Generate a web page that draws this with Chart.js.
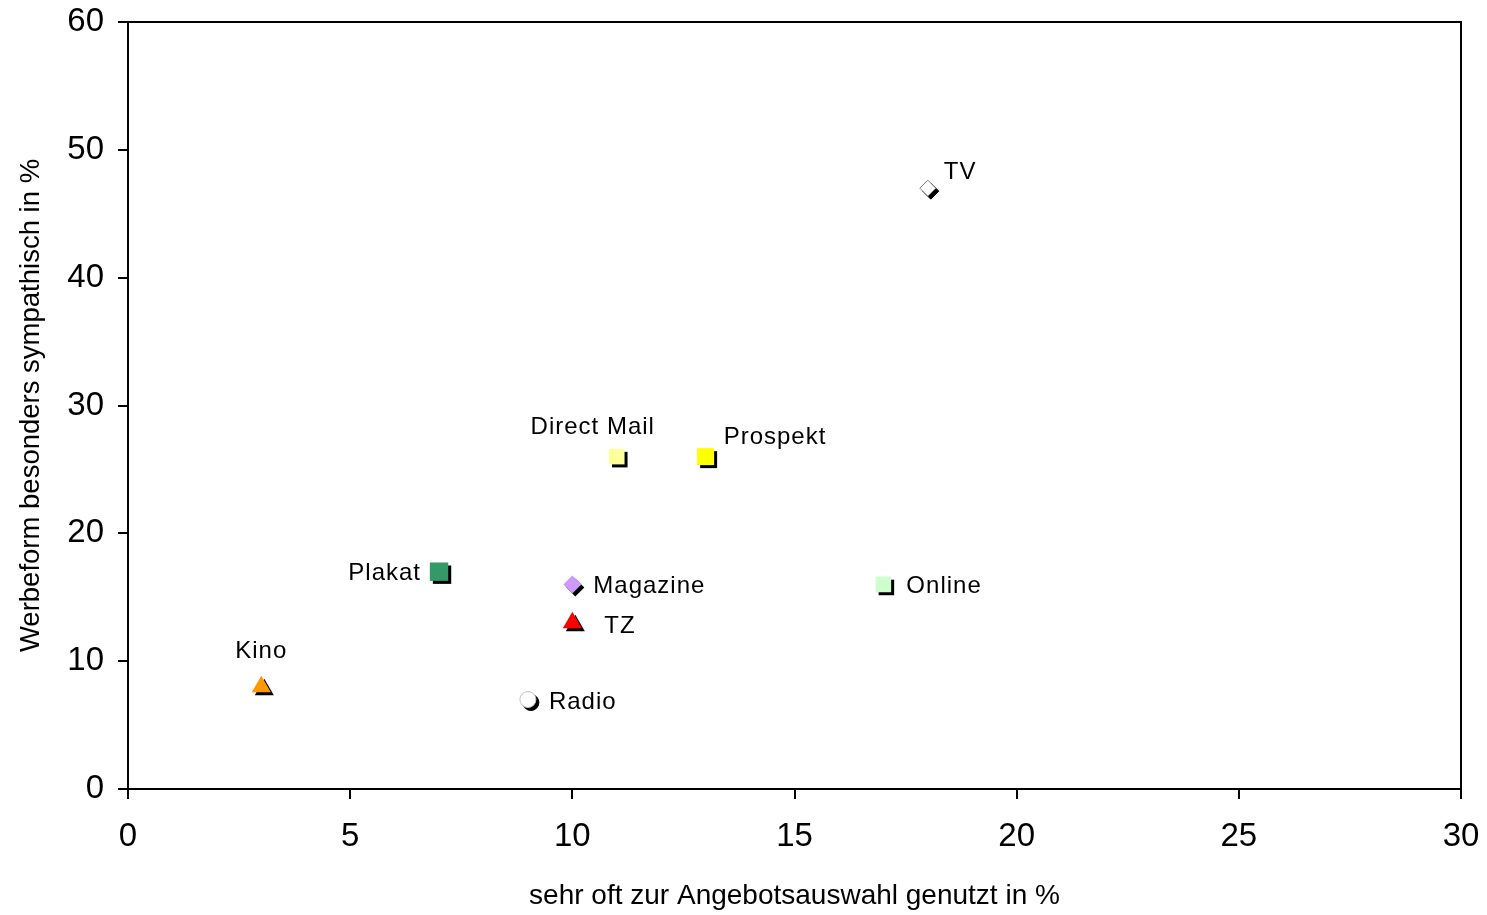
<!DOCTYPE html>
<html>
<head>
<meta charset="utf-8">
<script src="https://cdn.jsdelivr.net/npm/chart.js@4"></script>
<style>
  html, body { margin: 0; padding: 0; background: #fff; }
  #wrap { width: 1487px; height: 915px; }
</style>
</head>
<body>
<div id="wrap"><canvas id="c"></canvas></div>
<script>
// ── Werbeformen: Nutzung vs. Sympathie ──

const names  = ['TV', 'Direct Mail', 'Prospekt', 'Plakat', 'Magazine', 'Online', 'TZ', 'Kino', 'Radio'];
const xVals  = [18, 11, 13, 7, 10, 17, 10, 3, 9];
const yVals  = [47, 26, 26, 17, 16, 16, 13, 8, 7];
const xTicks = [0, 5, 10, 15, 20, 25, 30];
const yTicks = [0, 10, 20, 30, 40, 50, 60];

// Marker-Stil pro Werbeform
const STYLE = {
  'TV':          { shape: 'rectRot',  fill: '#ffffff', line: '#808080', bw: 1, r: 8,  lab: [16, -16, 'left'] },
  'Direct Mail': { shape: 'rect',     fill: '#ffff99', line: '#ffff99', bw: 0, r: 11, lab: [-24, -29, 'center'] },
  'Prospekt':    { shape: 'rect',     fill: '#ffff00', line: '#ffff00', bw: 0, r: 12, lab: [18, -19, 'left'] },
  'Plakat':      { shape: 'rect',     fill: '#339966', line: '#339966', bw: 0, r: 13, lab: [-18, 2, 'right'] },
  'Magazine':    { shape: 'rectRot',  fill: '#cc99ff', line: '#cc99ff', bw: 0, r: 9,  lab: [21, 2, 'left'] },
  'Online':      { shape: 'rect',     fill: '#ccffcc', line: '#ccffcc', bw: 0, r: 11, lab: [23, 2, 'left'] },
  'TZ':          { shape: 'triangle', fill: '#ff0000', line: '#ff0000', bw: 0, r: 11, lab: [32, 4, 'left'] },
  'Kino':        { shape: 'triangle', fill: '#ff9900', line: '#ff9900', bw: 0, r: 11, lab: [0, -35, 'center'] },
  'Radio':       { shape: 'circle',   fill: '#ffffff', line: '#c0c0c0', bw: 1, r: 8,  lab: [21, 3, 'left'] },
};

const FONT = '"Liberation Sans", Arial, sans-serif';

// schwarzer Schatten unten rechts (vor dem Marker gezeichnet)
const shadowPlugin = {
  id: 'shadow',
  beforeDatasetDraw(chart, args) {
    const ctx = chart.ctx;
    const ds  = chart.data.datasets[args.index];
    ctx.save();
    ctx.translate(3, 3);
    ctx.fillStyle = '#000';
    ctx.strokeStyle = '#000';
    ctx.lineWidth = ds.borderWidth || 1;
    args.meta.data.forEach(pt => {
      Chart.helpers.drawPoint(ctx, {
        pointStyle: ds.pointStyle, radius: ds.pointRadius, rotation: 0, borderWidth: ds.borderWidth
      }, pt.x, pt.y);
    });
    ctx.restore();
  }
};

// Rahmen + Beschriftung der Punkte
const labelPlugin = {
  id: 'pointLabels',
  beforeDatasetsDraw(chart) {
    const { ctx, chartArea: a } = chart;
    ctx.save();
    ctx.strokeStyle = '#000';
    ctx.lineWidth = 2;
    ctx.strokeRect(a.left, a.top, a.right - a.left, a.bottom - a.top);
    ctx.restore();
  },
  afterDatasetsDraw(chart) {
    const ctx = chart.ctx;
    ctx.save();
    ctx.font = '24px ' + FONT;
    ctx.letterSpacing = '1px';
    ctx.fillStyle = '#000';
    ctx.textBaseline = 'middle';
    chart.data.datasets.forEach((ds, i) => {
      const pt = chart.getDatasetMeta(i).data[0];
      const [dx, dy, align] = STYLE[ds.label].lab;
      ctx.textAlign = align;
      ctx.fillText(ds.label, pt.x + dx, pt.y + dy);
    });
    ctx.restore();
  }
};

const datasets = names.map((n, i) => ({
  label: n,
  data: [{ x: xVals[i], y: yVals[i] }],
  pointStyle: STYLE[n].shape,
  pointRadius: STYLE[n].r,
  pointHoverRadius: STYLE[n].r,
  backgroundColor: STYLE[n].fill,
  borderColor: STYLE[n].line,
  borderWidth: STYLE[n].bw,
}));

new Chart(document.getElementById('c'), {
  type: 'scatter',
  data: { datasets },
  plugins: [shadowPlugin, labelPlugin],
  options: {
    responsive: true,
    maintainAspectRatio: false,
    animation: false,
    layout: { padding: { top: 22, right: 26, left: 0, bottom: 0 } },
    plugins: { legend: { display: false }, tooltip: { enabled: false } },
    scales: {
      x: {
        type: 'linear', min: 0, max: 30,
        afterBuildTicks: s => { s.ticks = xTicks.map(v => ({ value: v })); },
        afterFit: s => { s.height = 126; s.paddingLeft = 0; s.paddingRight = 0; },
        grid: { drawOnChartArea: false, color: '#000', lineWidth: 2, tickLength: 10 },
        border: { color: '#000', width: 2 },
        ticks: { color: '#000', font: { family: FONT, size: 33 }, padding: 18, maxRotation: 0 },
        title: {
          display: true, text: 'sehr oft zur Angebotsauswahl genutzt in %',
          color: '#000', font: { family: FONT, size: 28 }, padding: { top: 0, bottom: 2 }
        }
      },
      y: {
        type: 'linear', min: 0, max: 60,
        afterBuildTicks: s => { s.ticks = yTicks.map(v => ({ value: v })); },
        afterFit: s => { s.width = 128; s.paddingTop = 0; s.paddingBottom = 0; },
        grid: { drawOnChartArea: false, color: '#000', lineWidth: 2, tickLength: 10 },
        border: { color: '#000', width: 2 },
        ticks: { color: '#000', font: { family: FONT, size: 33 }, padding: 14 },
        title: {
          display: true, text: 'Werbeform besonders sympathisch in %',
          color: '#000', font: { family: FONT, size: 27.5 }, padding: { top: 15, bottom: 0 }
        }
      }
    }
  }
});
</script>
</body>
</html>
